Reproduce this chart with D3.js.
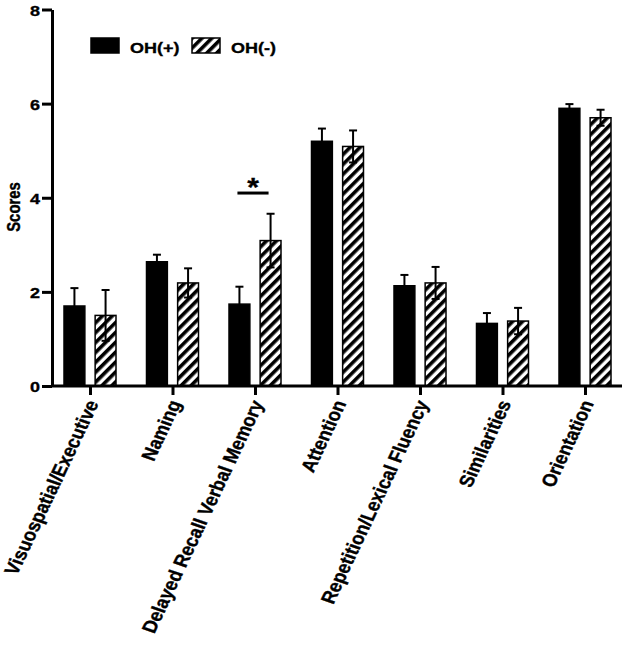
<!DOCTYPE html>
<html>
<head>
<meta charset="utf-8">
<script src="https://cdn.jsdelivr.net/npm/d3@7"></script>
<style>
  body { margin: 0; background: #fff; }
  text { font-family: "Liberation Sans", Arial, sans-serif; font-weight: bold; fill: #000; stroke: #000; stroke-width: 0.4px; }
</style>
</head>
<body>
<script>
const categories = ["Visuospatial/Executive", "Naming", "Delayed Recall Verbal Memory", "Attention",
  "Repetition/Lexical Fluency", "Similarities", "Orientation"];
const groups = ["OH(+)", "OH(-)"];
const ohPos = [1.70, 2.64, 1.74, 5.20, 2.13, 1.33, 5.90];
const ohPosErr = [0.38, 0.15, 0.37, 0.27, 0.23, 0.22, 0.09];
const ohNeg = [1.50, 2.19, 3.09, 5.09, 2.19, 1.38, 5.70];
const ohNegErr = [0.54, 0.31, 0.57, 0.34, 0.34, 0.28, 0.17];
const yTicks = [0, 2, 4, 6, 8];
const sigLevel = 4.1;

const width = 624, height = 655;
// the original figure is slightly squashed vertically; texts get the same squash
const squash = 0.85;

const svg = d3.select("body").append("svg")
  .attr("width", width)
  .attr("height", height);

const defs = svg.append("defs");
const pat = defs.append("pattern")
  .attr("id", "hatch")
  .attr("patternUnits", "userSpaceOnUse")
  .attr("width", 7)
  .attr("height", 7)
  .attr("patternTransform", "rotate(45)");
pat.append("rect").attr("width", 7).attr("height", 7).attr("fill", "#fff");
pat.append("rect").attr("width", 3.6).attr("height", 7).attr("fill", "#000");

const x = d3.scalePoint().domain(categories).range([90, 585]);
const xSub = d3.scaleBand().domain(groups).range([-26, 26]).paddingInner(0.33);
const y = d3.scaleLinear().domain([0, 8]).range([386, 9.5]);

const rows = categories.map((c, i) => [
  {cat: c, group: groups[0], value: ohPos[i], err: ohPosErr[i]},
  {cat: c, group: groups[1], value: ohNeg[i], err: ohNegErr[i]}
]).flat();

const fillOf = g => g === groups[0] ? "#000" : "url(#hatch)";

// bars
svg.append("g").selectAll("rect")
  .data(rows)
  .enter().append("rect")
    .attr("x", d => x(d.cat) + xSub(d.group))
    .attr("y", d => y(d.value))
    .attr("width", xSub.bandwidth())
    .attr("height", d => y(0) - y(d.value))
    .attr("fill", d => fillOf(d.group))
    .attr("stroke", "#000")
    .attr("stroke-width", 1.5);

// error bars
const eb = svg.append("g").selectAll("g")
  .data(rows)
  .enter().append("g")
    .attr("transform", d => `translate(${x(d.cat) + xSub(d.group) + xSub.bandwidth() / 2},0)`)
    .attr("stroke", "#000")
    .attr("stroke-width", 2);
eb.append("line")
  .attr("y1", d => y(d.value - d.err))
  .attr("y2", d => y(d.value + d.err));
eb.append("line")
  .attr("x1", -4).attr("x2", 4)
  .attr("y1", d => y(d.value + d.err))
  .attr("y2", d => y(d.value + d.err));
eb.append("line")
  .attr("x1", -4).attr("x2", 4)
  .attr("y1", d => y(d.value - d.err))
  .attr("y2", d => y(d.value - d.err));

// y axis
const yAxis = svg.append("g")
  .attr("transform", "translate(52,0)")
  .call(d3.axisLeft(y).tickValues(yTicks).tickSize(10).tickSizeOuter(0));
yAxis.select(".domain").attr("stroke-width", 3);
yAxis.selectAll(".tick line").attr("stroke-width", 3);
yAxis.selectAll(".tick text")
  .attr("font-size", 18)
  .style("font-family", null)
  .attr("x", 0)
  .attr("dy", "0.36em")
  .attr("transform", `translate(-12,0) scale(1,${squash})`);

// x axis
const xAxis = svg.append("g")
  .attr("transform", `translate(0,${y(0)})`)
  .call(d3.axisBottom(x).tickSize(9).tickSizeOuter(0));
xAxis.select(".domain").remove();
xAxis.append("line")
  .attr("x1", 52).attr("x2", 622)
  .attr("stroke", "#000").attr("stroke-width", 3);
xAxis.selectAll(".tick line").attr("stroke-width", 3);
xAxis.selectAll(".tick text")
  .attr("font-size", 20.3)
  .style("font-family", null)
  .attr("text-anchor", "end")
  .attr("y", 0)
  .attr("dy", "0.35em")
  .attr("transform", `translate(2,15) scale(1,${squash}) rotate(-68)`);

// y label
svg.append("text")
  .attr("transform", `translate(20,207) scale(1,${squash}) rotate(-90)`)
  .attr("text-anchor", "middle")
  .attr("font-size", 17.5)
  .text("Scores");

// legend
const legend = svg.append("g");
const lx = [91, 192];
groups.forEach((g, i) => {
  legend.append("rect")
    .attr("x", lx[i]).attr("y", 38)
    .attr("width", 28).attr("height", 15)
    .attr("fill", fillOf(g))
    .attr("stroke", "#000").attr("stroke-width", 1.5);
  legend.append("text")
    .attr("transform", `translate(${lx[i] + 39},53) scale(1,${squash})`)
    .attr("font-size", 18)
    .text(g);
});

// significance marker
const dCat = categories[2];
const sx1 = x(dCat) + xSub(groups[0]) + xSub.bandwidth() / 2 - 2;
const sx2 = x(dCat) + xSub(groups[1]) + xSub.bandwidth() / 2 - 2;
svg.append("line")
  .attr("x1", sx1).attr("x2", sx2)
  .attr("y1", y(sigLevel)).attr("y2", y(sigLevel))
  .attr("stroke", "#000").attr("stroke-width", 3);
svg.append("text")
  .attr("transform", `translate(${(sx1 + sx2) / 2},${y(sigLevel) + 3}) scale(1,${squash})`)
  .attr("text-anchor", "middle")
  .attr("font-size", 30)
  .text("*");
</script>
</body>
</html>
